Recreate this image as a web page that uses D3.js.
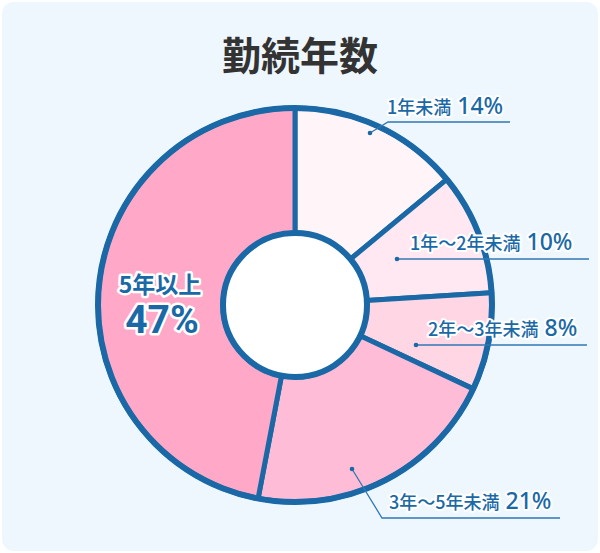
<!DOCTYPE html>
<html><head><meta charset="utf-8">
<script src="https://cdn.jsdelivr.net/npm/d3@7/dist/d3.min.js"></script>
<style>
html,body{margin:0;padding:0;background:#fff;}
svg{display:block;font-family:"Noto Sans CJK JP","Noto Sans",sans-serif;}
</style></head>
<body><svg id="c" width="600" height="553"></svg>
<script>
const title = "勤続年数";
const categories = ["1年未満", "1年〜2年未満", "2年〜3年未満", "3年〜5年未満", "5年以上"];
const values = [14, 10, 8, 21, 47];
const colors = ["#fff5f9", "#ffe8f1", "#ffd6e3", "#ffbcd6", "#ffa8c8"];

// label layout (positions only)
const labelLayout = [
  {dot:[370,133], elbow:[388,122], end:[510,122], tx:387, ty:114},
  {dot:[397,259], elbow:[397,259], end:[589,259], tx:410, ty:250},
  {dot:[416,345], elbow:[416,345], end:[587,345], tx:428, ty:336},
  {dot:[352,469], elbow:[382,518], end:[560,518], tx:389, ty:509}
];

const svg = d3.select("#c");
const blue = "#1a69a6";
svg.append("rect").attr("x",2).attr("y",2).attr("width",596).attr("height",549)
  .attr("rx",12).attr("fill","#eff7fe");

svg.append("text").attr("x",300).attr("y",70).attr("text-anchor","middle")
  .attr("font-size",39).attr("font-weight",700).attr("fill","#333").text(title);

const cx = 295, cy = 305, R = 197, r = 72;
const g = svg.append("g").attr("transform",`translate(${cx},${cy})`);
const pie = d3.pie().sort(null).value(d=>d)(values);
const arc = d3.arc().innerRadius(r).outerRadius(R);
g.selectAll("path.s").data(pie).join("path").attr("class","s")
  .attr("d",arc).attr("fill",(d,i)=>colors[i])
  .attr("stroke",blue).attr("stroke-width",5).attr("stroke-linejoin","round");
g.append("circle").attr("r",R).attr("fill","none").attr("stroke",blue).attr("stroke-width",6);
g.append("circle").attr("r",r).attr("fill","#fff").attr("stroke",blue).attr("stroke-width",6);

// leader labels
labelLayout.forEach((L,i)=>{
  svg.append("polyline").attr("points",[L.dot,L.elbow,L.end].map(p=>p.join(",")).join(" "))
    .attr("fill","none").attr("stroke","#2f78b4").attr("stroke-width",1.3);
  svg.append("circle").attr("cx",L.dot[0]).attr("cy",L.dot[1]).attr("r",2.3).attr("fill",blue);
  const t = svg.append("text").attr("x",L.tx).attr("y",L.ty).attr("fill",blue)
    .attr("stroke","#fff").attr("stroke-width",4).attr("paint-order","stroke").attr("stroke-linejoin","round");
  t.append("tspan").attr("font-size",18).attr("font-weight",500).text(categories[i]);
  t.append("tspan").attr("dx",6).attr("font-size",23).attr("font-weight",500).attr("font-family","'Noto Sans', sans-serif").text(values[i]+"%");
});

// big label
const big = svg.append("g").attr("fill",blue).attr("stroke","#fff").attr("stroke-width",5)
  .attr("paint-order","stroke").attr("stroke-linejoin","round").attr("text-anchor","middle");
big.append("text").attr("x",160).attr("y",293).attr("font-size",23).attr("font-weight",700).text(categories[4]);
big.append("text").attr("x",162).attr("y",333).attr("font-size",39).attr("font-weight",700)
  .attr("font-family","Roboto, 'Noto Sans', sans-serif").text(values[4]+"%");
</script></body></html>
